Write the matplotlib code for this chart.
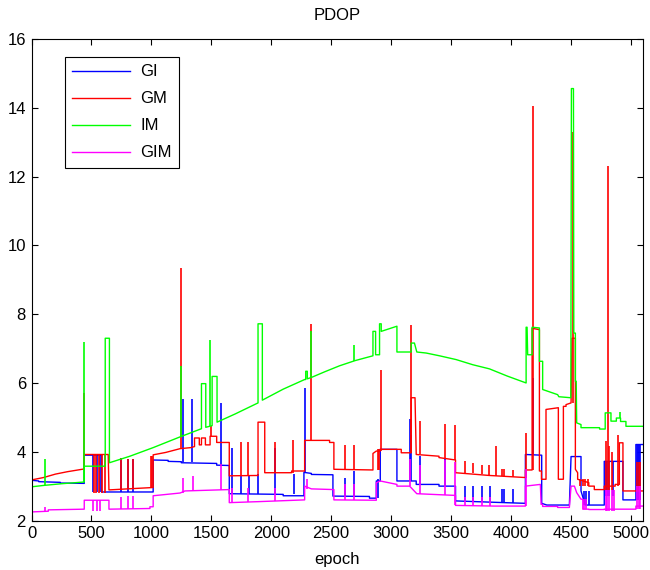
import numpy as np
import matplotlib
matplotlib.use('Agg')
import matplotlib.pyplot as plt

plt.rcParams['font.family'] = ['Liberation Sans', 'DejaVu Sans']
plt.rcParams['font.size'] = 12

# ---- GI (blue) ----
gi_x = [0, 60, 60, 240, 240, 440, 440, 585, 585, 1015, 1015, 1140, 1140, 1250, 1250, 1545, 1545, 1650,
        1650, 2100, 2100, 2273, 2273, 2335, 2335, 2515, 2515, 2820, 2820, 2877, 2877, 2910, 2910, 3049,
        3049, 3210, 3210, 3400, 3400, 3538, 3538, 3863, 4121, 4121, 4257, 4257, 4300, 4488, 4502, 4585,
        4585, 4620, 4779, 4779, 4935, 4935, 5043, 5043, 5100]
gi_y = [3.17, 3.15, 3.13, 3.11, 3.09, 3.08, 3.9, 3.9, 2.83, 2.83, 3.76, 3.75, 3.72, 3.71, 3.68, 3.66, 3.61, 3.6,
        2.78, 2.76, 2.72, 2.72, 3.4, 3.37, 3.34, 3.33, 2.71, 2.7, 2.65, 2.65, 3.15, 3.15, 4.07, 4.07,
        3.15, 3.15, 3.05, 3.05, 3.0, 3.0, 2.57, 2.53, 2.5, 3.92, 3.9, 2.5, 2.45, 2.45, 3.86, 3.86,
        2.86, 2.45, 2.45, 3.72, 3.72, 2.6, 2.6, 4.21, 4.21]
gi_spk_x = [515, 543, 571, 743, 801, 843, 1265, 1343, 1585, 1673, 1751, 1812, 1890, 2029, 2187, 2285,
            2613, 2688, 2895, 3155, 3168, 3238, 3446, 3621, 3682, 3760, 3825, 3926, 3946, 4021, 4182,
            4613, 4627, 4650, 4790, 4805, 4820, 4850, 5050, 5060, 5070, 5080]
gi_spk_lo = [2.83, 2.83, 2.83, 2.83, 2.83, 2.83, 3.7, 3.7, 3.6, 2.78, 2.78, 2.78, 2.78, 2.78, 2.76, 3.4,
             2.71, 2.71, 2.65, 3.15, 3.15, 3.05, 3.0, 2.57, 2.56, 2.55, 2.54, 2.52, 2.52, 2.51, 3.9,
             2.45, 2.45, 2.45, 2.7, 2.7, 2.7, 2.7, 2.6, 2.6, 2.6, 2.6]
gi_spk_hi = [3.9, 3.9, 3.9, 3.83, 3.8, 3.8, 5.52, 5.52, 5.42, 4.12, 3.29, 3.29, 3.34, 4.12, 3.34, 5.86,
             3.24, 3.44, 3.2, 4.94, 4.5, 3.87, 3.78, 3.0, 3.0, 3.0, 3.0, 2.93, 2.93, 2.93, 6.14,
             2.86, 2.86, 2.86, 3.72, 3.72, 3.72, 3.72, 4.21, 4.21, 4.21, 4.21]

# ---- GM (red) ----
gm_x = [0, 100, 200, 300, 440, 440, 640, 646, 800, 1015, 1015, 1120, 1240, 1329, 1360, 1360, 1400, 1400,
        1418, 1418, 1451, 1451, 1490, 1490, 1545, 1545, 1650, 1650, 1890, 1890, 1946, 1946, 2170, 2170,
        2279, 2279, 2487, 2487, 2523, 2523, 2849, 2849, 2877, 2910, 2910, 3085, 3085, 3168, 3168, 3200,
        3210, 3400, 3400, 3538, 3538, 3821, 4121, 4121, 4177, 4177, 4238, 4238, 4255, 4255, 4293, 4293,
        4396, 4396, 4438, 4438, 4460, 4460, 4502, 4510, 4538, 4538, 4557, 4557, 4650, 4650, 4696, 4696,
        4779, 4779, 4870, 4870, 4905, 4905, 4935, 4935, 5100]
gm_y = [3.18, 3.25, 3.35, 3.42, 3.5, 3.92, 3.92, 2.89, 2.92, 2.96, 3.91, 3.98, 4.09, 4.12, 4.15, 4.4, 4.4, 4.2,
        4.2, 4.4, 4.4, 4.2, 4.2, 4.45, 4.45, 4.27, 4.27, 3.3, 3.31, 4.86, 4.86, 3.39, 3.39, 3.44,
        3.44, 4.33, 4.33, 4.27, 4.27, 3.49, 3.47, 3.95, 4.02, 4.02, 4.07, 4.07, 3.97, 3.97, 5.57, 5.57,
        3.92, 3.87, 3.83, 3.76, 3.39, 3.31, 3.25, 3.47, 3.47, 7.59, 7.55, 3.44, 3.44, 3.2, 3.2, 5.23,
        5.28, 3.2, 3.2, 5.32, 5.32, 5.37, 5.42, 7.3, 7.3, 3.49, 3.39, 3.2, 3.1, 3.0, 3.0, 2.9,
        2.9, 3.0, 3.0, 3.05, 3.05, 4.26, 4.26, 2.86, 2.86]
gm_spk_x = [440, 518, 540, 560, 585, 610, 743, 801, 843, 995, 1008, 1245, 1500, 1748, 1810,
            2035, 2182, 2329, 2612, 2687, 2888, 2900, 2912, 3163, 3238, 3446, 3532, 3621, 3682, 3760,
            3816, 3877, 3927, 3946, 4021, 4125, 4183, 4515, 4580, 4600, 4620, 4640, 4795, 4807,
            4822, 4840, 4890, 5050, 5065, 5080]
gm_spk_lo = [3.5, 2.81, 2.81, 2.81, 2.81, 2.81, 2.9, 2.92, 2.93, 2.96, 2.96, 4.09, 4.45,
             3.3, 3.3, 3.39, 3.39, 4.33, 3.47, 3.47, 3.47, 3.47, 4.02, 3.97, 3.92, 3.83, 3.76, 3.39,
             3.37, 3.35, 3.33, 3.3, 3.3, 3.3, 3.28, 3.25, 3.47, 5.42, 3.0, 3.0, 3.0, 3.0, 2.9, 2.9,
             2.9, 2.9, 3.0, 2.86, 2.86, 2.86]
gm_spk_hi = [5.7, 3.92, 3.92, 3.92, 3.92, 3.92, 3.83, 3.8, 3.8, 3.87, 3.87, 9.35, 4.74,
             4.28, 4.28, 4.28, 4.33, 7.72, 4.2, 4.2, 4.07, 4.07, 6.39, 7.69, 4.89, 4.82, 4.78, 3.73,
             3.68, 3.62, 3.6, 4.16, 3.5, 3.5, 3.47, 4.55, 14.05, 13.3, 3.2, 3.2, 3.2, 3.2, 4.3, 12.31,
             4.16, 4.0, 4.5, 3.7, 3.7, 3.7]

# ---- IM (green) ----
im_x = [0, 100, 250, 440, 440, 615, 615, 650, 650, 821, 1015, 1238, 1418, 1418, 1454, 1454, 1507, 1507,
        1548, 1548, 1700, 1890, 1890, 1926, 1926, 2100, 2279, 2288, 2288, 2301, 2301, 2335, 2450, 2571,
        2700, 2849, 2849, 2871, 2871, 2904, 2904, 2918, 2918, 3049, 3049, 3168, 3168, 3195, 3215, 3293,
        3404, 3543, 3682, 3821, 3970, 4127, 4127, 4135, 4140, 4177, 4177, 4238, 4238, 4265, 4265, 4390,
        4400, 4500, 4505, 4522, 4525, 4538, 4538, 4545, 4549, 4585, 4585, 4740, 4740, 4787, 4787, 4835,
        4835, 4880, 4880, 4915, 4915, 4960, 4960, 5100]
im_y = [2.98, 3.02, 3.07, 3.12, 3.58, 3.58, 7.3, 7.3, 3.68, 3.87, 4.12, 4.43, 4.67, 5.98, 5.98, 4.71, 4.76, 6.19,
        6.19, 4.86, 5.1, 5.42, 7.72, 7.72, 5.5, 5.82, 6.1, 6.1, 6.34, 6.34, 6.12, 6.16, 6.33, 6.5,
        6.65, 6.79, 7.5, 7.5, 6.82, 6.82, 7.72, 7.72, 7.5, 7.65, 6.9, 6.9, 7.16, 7.16, 6.9, 6.87,
        6.79, 6.68, 6.53, 6.41, 6.2, 6.0, 7.62, 7.62, 6.82, 6.82, 7.62, 7.6, 6.63, 6.63, 5.81, 5.66,
        5.6, 5.57, 14.56, 14.56, 7.45, 7.45, 6.05, 6.05, 4.84, 4.79, 4.7, 4.7, 4.66, 4.66, 5.13, 5.13,
        4.89, 4.89, 4.98, 4.98, 4.88, 4.88, 4.74, 4.74]
im_spk_x = [112, 440, 1245, 1493, 2329, 2690, 4910]
im_spk_lo = [3.02, 3.12, 4.43, 4.75, 6.16, 6.63, 4.98]
im_spk_hi = [3.8, 7.19, 6.48, 7.26, 7.5, 7.11, 5.15]

# ---- GIM (magenta) ----
gim_x = [0, 140, 140, 440, 440, 646, 646, 988, 988, 1015, 1015, 1240, 1280, 1650, 1650, 1900, 2279, 2279,
         2335, 2335, 2523, 2523, 2877, 2877, 2910, 3049, 3049, 3155, 3215, 3538, 3538, 3863, 4121, 4121,
         4246, 4252, 4265, 4265, 4390, 4390, 4488, 4502, 4530, 4549, 4585, 4600, 4600, 4650, 4650, 4779,
         4779, 5043, 5043, 5100]
gim_y = [2.25, 2.27, 2.31, 2.33, 2.59, 2.59, 2.33, 2.35, 2.4, 2.4, 2.72, 2.8, 2.86, 2.9, 2.52, 2.55, 2.6, 3.0,
         2.92, 2.92, 2.9, 2.6, 2.59, 3.1, 3.15, 3.05, 3.0, 3.0, 2.78, 2.73, 2.44, 2.42, 2.42, 3.0,
         3.05, 2.47, 2.47, 2.41, 2.41, 2.38, 2.38, 3.0, 3.0, 2.81, 2.62, 2.62, 2.33, 2.33, 2.32, 2.32,
         2.33, 2.33, 2.42, 2.42]
gim_spk_x = [112, 515, 543, 571, 743, 801, 843, 1265, 1346, 1585, 1673, 1810, 2035, 2298, 2612, 2687, 3158,
             3238, 3446, 3535, 3621, 3682, 3760, 3825, 4125, 4610, 4625, 4790, 4805, 4820, 4840, 4860,
             5050, 5065, 5080]
gim_spk_lo = [2.25, 2.27, 2.27, 2.27, 2.33, 2.33, 2.34, 2.8, 2.85, 2.88, 2.55, 2.55, 2.57, 2.92, 2.6, 2.6,
              3.0, 2.78, 2.75, 2.44, 2.44, 2.44, 2.43, 2.43, 2.42, 2.33, 2.33, 2.28, 2.28, 2.28, 2.28, 2.28,
              2.33, 2.33, 2.33]
gim_spk_hi = [2.39, 2.59, 2.59, 2.59, 2.67, 2.7, 2.7, 3.25, 3.3, 3.63, 2.95, 2.95, 2.95, 3.2, 3.05, 3.05,
              3.78, 3.6, 3.76, 3.7, 2.67, 2.67, 2.67, 2.67, 3.5, 2.62, 2.62, 2.9, 2.9, 2.9, 2.9, 2.9,
              2.99, 2.99, 2.99]

series = [
    ('GI', '#0000ff', gi_x, gi_y, gi_spk_x, gi_spk_lo, gi_spk_hi),
    ('GM', '#ff0000', gm_x, gm_y, gm_spk_x, gm_spk_lo, gm_spk_hi),
    ('IM', '#00ff00', im_x, im_y, im_spk_x, im_spk_lo, im_spk_hi),
    ('GIM', '#ff00ff', gim_x, gim_y, gim_spk_x, gim_spk_lo, gim_spk_hi),
]

fig = plt.figure(figsize=(6.5, 5.7), dpi=100)
ax = fig.add_axes([0.0485, 0.0868, 0.9403, 0.8447])

for name, col, x, y, sx, slo, shi in series:
    ax.plot(x, y, color=col, lw=1.0, label=name)
    ax.vlines(sx, slo, shi, color=col, lw=1.2)

ax.set_xlim(0, 5100)
ax.set_ylim(2, 16)
ax.set_xticks(np.arange(0, 5001, 500))
ax.set_yticks(np.arange(2, 17, 2))
ax.tick_params(direction='in', top=True, right=True, length=4, width=0.8, labelsize=12, pad=4)
for s in ax.spines.values():
    s.set_linewidth(0.8)

ax.set_title('PDOP', fontsize=12, pad=14)
ax.set_xlabel('epoch', fontsize=12, labelpad=8)

leg = ax.legend(loc='upper left', bbox_to_anchor=(0.054, 0.963), borderaxespad=0,
                fancybox=False, framealpha=1, edgecolor='black', fontsize=12,
                handlelength=3.5, handletextpad=0.6, labelspacing=0.72, borderpad=0.45)
leg.get_frame().set_linewidth(0.8)

plt.savefig('out.png', dpi=100)
